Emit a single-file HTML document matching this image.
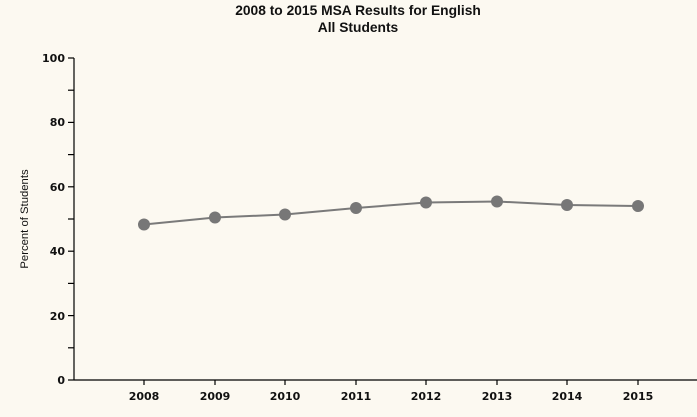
<!DOCTYPE html>
<html><head><style>body{margin:0;background:#fcf9f1;}svg{display:block}</style></head><body>
<svg width="697" height="417" xmlns="http://www.w3.org/2000/svg" font-family="Liberation Sans, sans-serif">
<rect width="697" height="417" fill="#fcf9f1"/>
<text x="358" y="15" text-anchor="middle" font-size="13.8" font-weight="bold" fill="#111">2008 to 2015 MSA Results for English</text>
<text x="358" y="32" text-anchor="middle" font-size="13.8" font-weight="bold" fill="#111">All Students</text>
<text transform="translate(28,219) rotate(-90)" text-anchor="middle" font-size="11.3" fill="#111">Percent of Students</text>
<g stroke="#000" stroke-width="1.2">
<line x1="74" y1="58" x2="74" y2="380"/>
<line x1="74" y1="380" x2="697" y2="380"/>
<line x1="68" y1="58" x2="74" y2="58"/><line x1="68" y1="122.4" x2="74" y2="122.4"/><line x1="68" y1="186.8" x2="74" y2="186.8"/><line x1="68" y1="251.2" x2="74" y2="251.2"/><line x1="68" y1="315.6" x2="74" y2="315.6"/><line x1="68" y1="380" x2="74" y2="380"/>
<line x1="68" y1="90.2" x2="74" y2="90.2"/><line x1="68" y1="154.6" x2="74" y2="154.6"/><line x1="68" y1="219" x2="74" y2="219"/><line x1="68" y1="283.4" x2="74" y2="283.4"/><line x1="68" y1="347.8" x2="74" y2="347.8"/>
<line x1="144" y1="380" x2="144" y2="385"/><line x1="215" y1="380" x2="215" y2="385"/><line x1="285" y1="380" x2="285" y2="385"/><line x1="356" y1="380" x2="356" y2="385"/><line x1="426" y1="380" x2="426" y2="385"/><line x1="497" y1="380" x2="497" y2="385"/><line x1="567" y1="380" x2="567" y2="385"/><line x1="638" y1="380" x2="638" y2="385"/>
</g>
<g font-size="11" font-weight="bold" fill="#111" text-anchor="end" font-family="DejaVu Sans, sans-serif">
<text x="65" y="62">100</text><text x="65" y="126">80</text><text x="65" y="191">60</text><text x="65" y="255">40</text><text x="65" y="320">20</text><text x="65" y="384">0</text>
</g>
<g font-size="11" font-weight="bold" fill="#111" text-anchor="middle" font-family="DejaVu Sans, sans-serif">
<text x="144" y="400">2008</text><text x="215" y="400">2009</text><text x="285" y="400">2010</text><text x="356" y="400">2011</text><text x="426" y="400">2012</text><text x="497" y="400">2013</text><text x="567" y="400">2014</text><text x="638" y="400">2015</text>
</g>
<polyline fill="none" stroke="#7a7a7a" stroke-width="2" points="144,224.5 215,217.5 285,214.5 356,208 426,202.5 497,201.5 567,205 638,206"/>
<g fill="#777">
<circle cx="144" cy="224.5" r="6"/><circle cx="215" cy="217.5" r="6"/><circle cx="285" cy="214.5" r="6"/><circle cx="356" cy="208" r="6"/><circle cx="426" cy="202.5" r="6"/><circle cx="497" cy="201.5" r="6"/><circle cx="567" cy="205" r="6"/><circle cx="638" cy="206" r="6"/>
</g>
</svg>
</body></html>
